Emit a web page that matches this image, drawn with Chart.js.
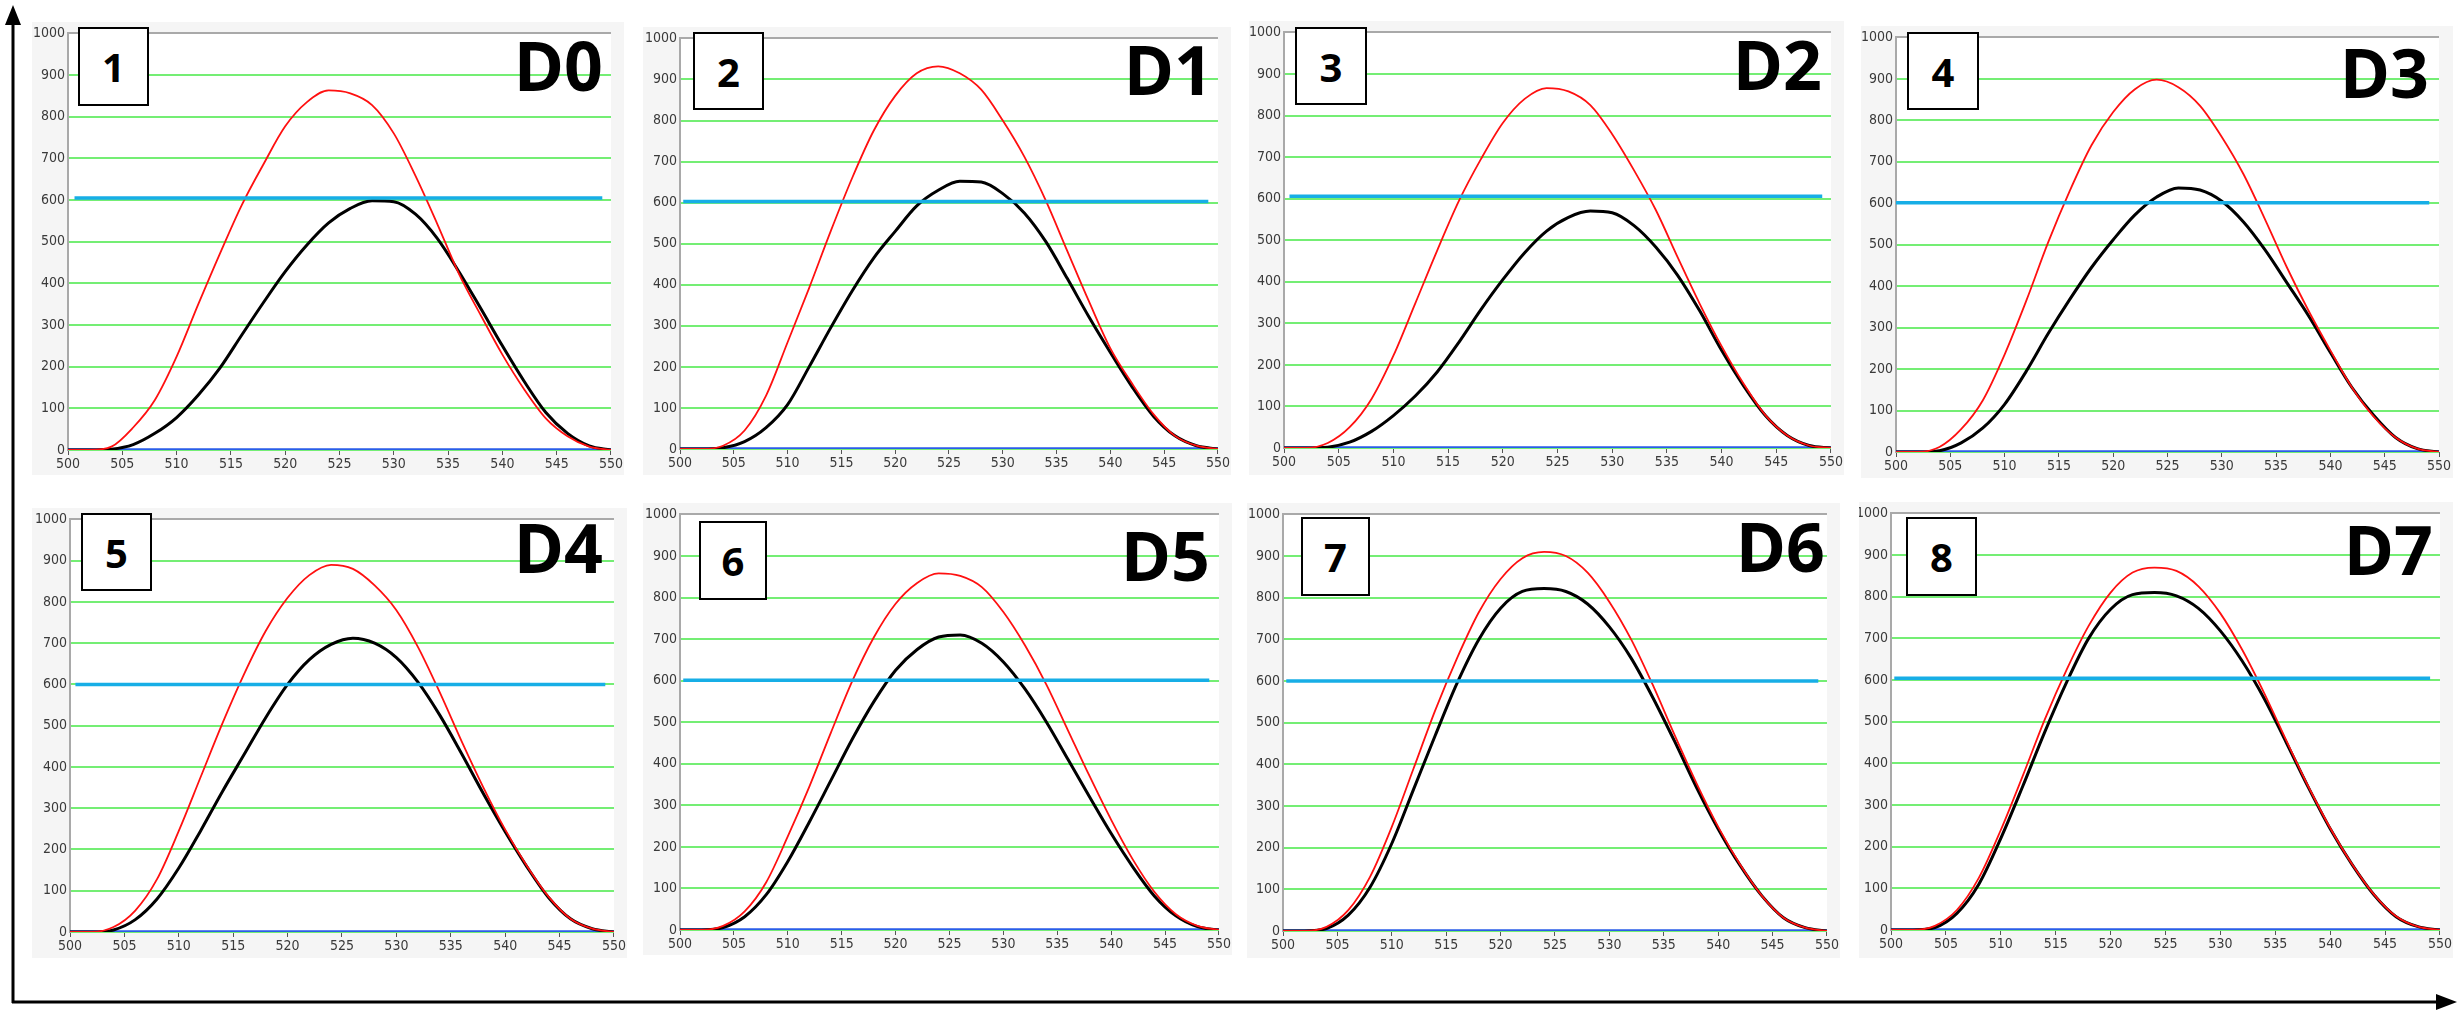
<!DOCTYPE html>
<html>
<head>
<meta charset="utf-8">
<script src="https://cdn.jsdelivr.net/npm/chart.js@4.4.1/dist/chart.umd.min.js"></script>
<style>
  html, body { margin: 0; padding: 0; background: #fff; }
  #page { position: relative; width: 2458px; height: 1010px; overflow: hidden; }
  .panel { position: absolute; background: #f5f5f5; }
  .panel canvas { display: block; }
  .numbox { position: absolute; box-sizing: border-box; border: 2px solid #000; background: #fff;
            display: flex; align-items: center; justify-content: center;
            font-family: "Open Sans", sans-serif; font-weight: 700; font-size: 40px; color: #000; }
  .dlabel { position: absolute; font-family: "Open Sans", sans-serif; font-weight: 700; font-size: 68px;
            line-height: 1; color: #000; text-align: right; white-space: nowrap; }
  #arrows { position: absolute; left: 0; top: 0; }
</style>
</head>
<body>
<div id="page">
  <canvas id="arrows" width="2458" height="1010"></canvas>
</div>
<script>
// wavelength grid (nm)
const wavelengths = [500, 502, 504, 506, 508, 510, 512, 514, 516, 518, 520, 522, 524,
                     526, 528, 530, 532, 534, 536, 538, 540, 542, 544, 546, 548, 550];

const panelNames = ['D0', 'D1', 'D2', 'D3', 'D4', 'D5', 'D6', 'D7'];
const panelNumbers = ['1', '2', '3', '4', '5', '6', '7', '8'];

// red curves
const redD0 = [0, 0, 8, 54, 120, 224, 350, 472, 588, 686, 777, 835, 863, 856, 828, 760, 658, 543, 423, 324, 229, 146, 76, 33, 8, 0];
const redD1 = [0, 0, 8, 45, 130, 260, 392, 530, 660, 775, 860, 915, 932, 915, 875, 800, 712, 605, 482, 360, 245, 160, 85, 32, 8, 0];
const redD2 = [0, 0, 12, 50, 118, 222, 348, 475, 595, 695, 782, 840, 866, 858, 825, 755, 668, 572, 458, 347, 245, 155, 79, 30, 6, 0];
const redD3 = [0, 0, 12, 55, 125, 235, 365, 505, 630, 740, 820, 875, 898, 880, 835, 760, 670, 560, 445, 340, 245, 155, 85, 35, 8, 0];
const redD4 = [0, 0, 12, 52, 128, 245, 375, 505, 625, 730, 810, 865, 890, 880, 840, 780, 690, 580, 462, 350, 248, 160, 85, 32, 8, 0];
const redD5 = [0, 0, 10, 45, 115, 225, 345, 475, 600, 705, 785, 835, 858, 852, 825, 765, 685, 590, 480, 370, 265, 170, 92, 38, 10, 0];
const redD6 = [0, 0, 10, 50, 130, 250, 390, 530, 655, 765, 845, 895, 910, 900, 860, 790, 700, 590, 470, 355, 250, 160, 85, 32, 8, 0];
const redD7 = [0, 0, 10, 48, 125, 240, 370, 505, 625, 730, 810, 858, 870, 862, 825, 760, 672, 568, 455, 345, 245, 158, 85, 33, 8, 0];

// black curves
const blackD0 = [0, 0, 2, 13, 40, 78, 132, 197, 276, 354, 428, 492, 545, 580, 598, 596, 566, 508, 428, 340, 250, 165, 90, 40, 10, 0];
const blackD1 = [0, 0, 3, 18, 52, 108, 200, 295, 385, 465, 530, 592, 630, 652, 650, 622, 575, 505, 415, 322, 235, 152, 80, 32, 8, 0];
const blackD2 = [0, 0, 2, 14, 40, 78, 125, 183, 255, 333, 405, 470, 522, 555, 570, 566, 535, 483, 415, 330, 235, 150, 78, 30, 6, 0];
const blackD3 = [0, 0, 3, 22, 58, 115, 195, 285, 368, 445, 512, 572, 615, 637, 632, 605, 555, 487, 408, 328, 240, 155, 88, 35, 8, 0];
const blackD4 = [0, 0, 5, 30, 80, 155, 245, 340, 430, 520, 600, 660, 697, 712, 700, 665, 605, 525, 432, 335, 243, 158, 83, 32, 8, 0];
const blackD5 = [0, 0, 6, 32, 85, 165, 260, 360, 460, 550, 625, 675, 705, 710, 690, 645, 580, 500, 410, 320, 232, 152, 82, 34, 8, 0];
const blackD6 = [0, 0, 6, 38, 105, 210, 340, 470, 595, 700, 775, 815, 822, 815, 785, 730, 655, 560, 455, 345, 245, 158, 85, 32, 8, 0];
const blackD7 = [0, 0, 6, 40, 110, 220, 345, 475, 595, 700, 770, 805, 810, 802, 772, 718, 645, 555, 450, 343, 243, 157, 84, 32, 8, 0];

// cyan threshold line: level, start and end wavelength
const thresholdLevel = [605, 603, 606, 601, 600, 601, 600, 604];
const thresholdStart = [500.6, 500.3, 500.5, 499.8, 500.5, 500.3, 500.3, 500.3];
const thresholdEnd = [549.2, 549.1, 549.2, 549.1, 549.2, 549.1, 549.2, 549.1];

const yTicks = [0, 100, 200, 300, 400, 500, 600, 700, 800, 900, 1000];
const xTicks = [500, 505, 510, 515, 520, 525, 530, 535, 540, 545, 550];

const redSeries = [redD0, redD1, redD2, redD3, redD4, redD5, redD6, redD7];
const blackSeries = [blackD0, blackD1, blackD2, blackD3, blackD4, blackD5, blackD6, blackD7];

// page layout: gray frame [x, y, w, h], plot box [left, top, right, bottom], number box, label anchor
const layout = [
  { bg: [32, 22, 592, 453],   plot: [68, 30, 613, 450],     box: [78, 27, 71, 79],     label: [603, 31] },
  { bg: [643, 27, 588, 448],  plot: [680, 33, 1220, 449],   box: [693, 32, 71, 78],    label: [1213, 35] },
  { bg: [1249, 21, 595, 454], plot: [1284, 27, 1831, 448],  box: [1295, 27, 72, 78],   label: [1822, 30] },
  { bg: [1861, 26, 592, 452], plot: [1896, 33, 2439, 452],  box: [1907, 32, 72, 78],   label: [2429, 38] },
  { bg: [32, 508, 595, 450],  plot: [70, 515, 614, 932],    box: [81, 513, 71, 78],    label: [603, 513] },
  { bg: [643, 503, 589, 452], plot: [680, 512, 1223, 930],  box: [699, 521, 68, 79],   label: [1210, 521] },
  { bg: [1247, 503, 593, 455], plot: [1283, 514, 1828, 931], box: [1301, 517, 69, 79], label: [1825, 512] },
  { bg: [1859, 502, 594, 456], plot: [1891, 509, 2443, 930], box: [1906, 517, 71, 79], label: [2433, 515] }
];

const tickFont = { family: '"Liberation Sans Narrow", "DejaVu Sans Condensed", "Roboto Condensed", sans-serif', size: 14 };

const plotBackground = {
  id: 'plotBackground',
  beforeDraw(chart) {
    const { ctx, chartArea } = chart;
    ctx.save();
    ctx.fillStyle = '#ffffff';
    ctx.fillRect(chartArea.left, chartArea.top, chartArea.right - chartArea.left, chartArea.bottom - chartArea.top);
    ctx.restore();
  }
};

function toPoints(values) {
  return values.map((v, i) => ({ x: wavelengths[i], y: v }));
}

const page = document.getElementById('page');

layout.forEach((p, i) => {
  const [bx, by, bw, bh] = p.bg;
  const [pl, pt, pr, pb] = p.plot;

  const div = document.createElement('div');
  div.className = 'panel';
  div.style.left = bx + 'px';
  div.style.top = by + 'px';
  div.style.width = bw + 'px';
  div.style.height = bh + 'px';
  const canvas = document.createElement('canvas');
  canvas.width = bw;
  canvas.height = bh;
  div.appendChild(canvas);
  page.appendChild(div);

  const yAxisWidth = pl - bx;
  const xAxisHeight = by + bh - pb;

  new Chart(canvas, {
    type: 'line',
    data: {
      datasets: [
        {
          label: 'threshold',
          data: [{ x: thresholdStart[i], y: thresholdLevel[i] }, { x: thresholdEnd[i], y: thresholdLevel[i] }],
          borderColor: '#17aee6',
          borderWidth: 3.5,
          pointRadius: 0,
          order: 0
        },
        {
          label: 'red',
          data: toPoints(redSeries[i]),
          borderColor: '#ff1010',
          borderWidth: 1.8,
          pointRadius: 0,
          cubicInterpolationMode: 'monotone',
          order: 1
        },
        {
          label: 'black',
          data: toPoints(blackSeries[i]),
          borderColor: '#000000',
          borderWidth: 3,
          pointRadius: 0,
          cubicInterpolationMode: 'monotone',
          order: 2
        },
        {
          label: 'baseline',
          data: [{ x: 500, y: 0 }, { x: 550, y: 0 }],
          borderColor: '#2a5de8',
          borderWidth: 3.5,
          pointRadius: 0,
          order: 3
        }
      ]
    },
    options: {
      responsive: false,
      animation: false,
      layout: { padding: { left: 0, top: pt - by, right: bx + bw - pr, bottom: 0 } },
      plugins: { legend: { display: false }, tooltip: { enabled: false } },
      scales: {
        x: {
          type: 'linear',
          min: xTicks[0],
          max: xTicks[xTicks.length - 1],
          afterBuildTicks: (scale) => { scale.ticks = xTicks.map(v => ({ value: v })); },
          ticks: { color: '#3a3a3a', font: tickFont, padding: 1, maxRotation: 0, autoSkip: false,
                   callback: (v) => String(v) },
          grid: { drawOnChartArea: false, drawTicks: true, tickLength: 5, color: '#555', lineWidth: 1 },
          border: { display: false },
          afterFit: (scale) => { scale.height = xAxisHeight; }
        },
        y: {
          min: 0,
          max: 1000,
          afterBuildTicks: (scale) => { scale.ticks = yTicks.map(v => ({ value: v })); },
          ticks: { color: '#3a3a3a', font: tickFont, padding: 3, autoSkip: false,
                   callback: (v) => String(v) },
          grid: {
            drawTicks: false,
            lineWidth: 2,
            color: (ctx) => (ctx.tick && ctx.tick.value === 1000 ? '#a9a9a9' : '#74ee74')
          },
          border: { display: true, color: '#a9a9a9', width: 2 },
          afterFit: (scale) => { scale.width = yAxisWidth; }
        }
      }
    },
    plugins: [plotBackground]
  });

  const box = document.createElement('div');
  box.className = 'numbox';
  box.style.left = p.box[0] + 'px';
  box.style.top = p.box[1] + 'px';
  box.style.width = p.box[2] + 'px';
  box.style.height = p.box[3] + 'px';
  box.textContent = panelNumbers[i];
  page.appendChild(box);

  const lab = document.createElement('div');
  lab.className = 'dlabel';
  lab.style.right = (2458 - p.label[0]) + 'px';
  lab.style.top = p.label[1] + 'px';
  lab.textContent = panelNames[i];
  page.appendChild(lab);
});

// outer axis arrows
const actx = document.getElementById('arrows').getContext('2d');
actx.strokeStyle = '#000';
actx.fillStyle = '#000';
actx.lineWidth = 3;
actx.beginPath();
actx.moveTo(13, 1003);
actx.lineTo(13, 22);
actx.stroke();
actx.beginPath();
actx.moveTo(13, 5);
actx.lineTo(5, 25);
actx.lineTo(21, 25);
actx.closePath();
actx.fill();
actx.beginPath();
actx.moveTo(12, 1002);
actx.lineTo(2438, 1002);
actx.stroke();
actx.beginPath();
actx.moveTo(2457, 1002);
actx.lineTo(2436, 994);
actx.lineTo(2436, 1010);
actx.closePath();
actx.fill();
</script>
</body>
</html>
